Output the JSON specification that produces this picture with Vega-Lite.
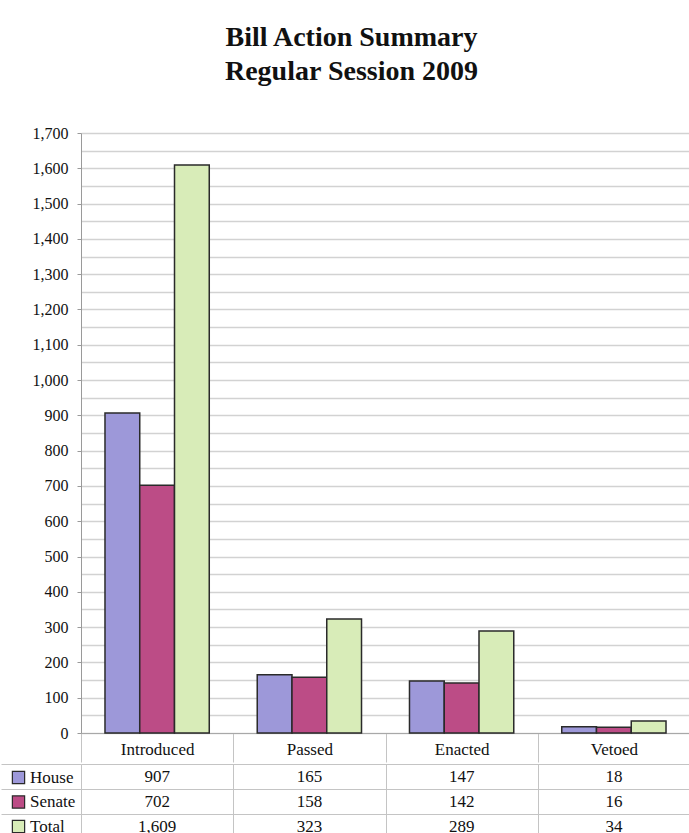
{
  "$schema": "https://vega.github.io/schema/vega-lite/v6.json",
  "background": "white",
  "padding": {"top": 24, "left": 0, "right": 0, "bottom": 0},
  "spacing": 0,
  "title": {
    "text": ["Bill Action Summary", "Regular Session 2009"],
    "font": "Liberation Serif",
    "fontSize": 28,
    "fontWeight": "bold",
    "lineHeight": 34,
    "color": "#111111",
    "anchor": "middle",
    "dx": 6,
    "offset": 39
  },
  "data": {
    "values": [
      {"category": "Introduced", "chamber": "House", "count": 907},
      {"category": "Introduced", "chamber": "Senate", "count": 702},
      {"category": "Introduced", "chamber": "Total", "count": 1609},
      {"category": "Passed", "chamber": "House", "count": 165},
      {"category": "Passed", "chamber": "Senate", "count": 158},
      {"category": "Passed", "chamber": "Total", "count": 323},
      {"category": "Enacted", "chamber": "House", "count": 147},
      {"category": "Enacted", "chamber": "Senate", "count": 142},
      {"category": "Enacted", "chamber": "Total", "count": 289},
      {"category": "Vetoed", "chamber": "House", "count": 18},
      {"category": "Vetoed", "chamber": "Senate", "count": 16},
      {"category": "Vetoed", "chamber": "Total", "count": 34}
    ]
  },
  "resolve": {
    "scale": {"y": "independent", "color": "independent"},
    "legend": {"color": "independent"}
  },
  "config": {
    "view": {"stroke": null},
    "font": "Liberation Serif",
    "axis": {"labelFont": "Liberation Serif", "labelColor": "#111111"},
    "legend": {"labelFont": "Liberation Serif"}
  },
  "vconcat": [
    {
      "width": 609,
      "height": 600,
      "mark": {"type": "bar", "stroke": "#2a2a2a", "strokeWidth": 1.5},
      "encoding": {
        "x": {
          "field": "category",
          "type": "nominal",
          "sort": ["Introduced", "Passed", "Enacted", "Vetoed"],
          "scale": {"paddingInner": 0, "paddingOuter": 0},
          "axis": {
            "title": null,
            "labelAngle": 0,
            "labelFontSize": 17,
            "grid": false,
            "domainColor": "#a8a8a8",
            "tickBand": "extent",
            "tickSize": 29,
            "tickColor": "#c4c4c4",
            "labelPadding": -21,
            "minExtent": 29,
            "maxExtent": 29
          }
        },
        "xOffset": {
          "field": "chamber",
          "sort": ["House", "Senate", "Total"],
          "scale": {"paddingInner": 0, "paddingOuter": 0.69}
        },
        "y": {
          "field": "count",
          "type": "quantitative",
          "scale": {"domain": [0, 1700], "nice": false},
          "axis": {
            "title": null,
            "values": [0, 50, 100, 150, 200, 250, 300, 350, 400, 450, 500, 550, 600, 650, 700, 750, 800, 850, 900, 950, 1000, 1050, 1100, 1150, 1200, 1250, 1300, 1350, 1400, 1450, 1500, 1550, 1600, 1650, 1700],
            "labelExpr": "datum.value % 100 === 0 ? format(datum.value, ',') : ''",
            "labelFontSize": 16,
            "labelPadding": 9,
            "tickSize": 4,
            "tickColor": "#9a9a9a",
            "tickOpacity": {"condition": {"test": "datum.value % 100 !== 0", "value": 0}, "value": 1},
            "domainColor": "#9a9a9a",
            "gridColor": "#d2d2d2",
            "gridWidth": 1.5,
            "minExtent": 80,
            "maxExtent": 80
          }
        },
        "color": {
          "field": "chamber",
          "type": "nominal",
          "scale": {"domain": ["House", "Senate", "Total"], "range": ["#9d98d9", "#bc4c86", "#d8ecb8"]},
          "legend": null
        }
      }
    },
    {
      "width": 609,
      "height": 75,
      "encoding": {
        "y": {
          "field": "chamber",
          "type": "nominal",
          "sort": ["House", "Senate", "Total"],
          "scale": {"paddingInner": 0, "paddingOuter": 0},
          "axis": {
            "title": null,
            "labels": false,
            "domain": false,
            "ticks": true,
            "tickSize": 80,
            "tickColor": "#c4c4c4",
            "grid": true,
            "tickBand": "extent",
            "gridColor": "#c4c4c4",
            "gridWidth": 1,
            "minExtent": 80,
            "maxExtent": 80
          }
        }
      },
      "layer": [
        {
          "mark": {"type": "text", "fontSize": 17, "color": "#111111", "align": "center", "baseline": "middle"},
          "encoding": {
            "x": {
              "field": "category",
              "type": "nominal",
              "sort": ["Introduced", "Passed", "Enacted", "Vetoed"],
              "scale": {"paddingInner": 0, "paddingOuter": 0},
              "axis": {
                "title": null,
                "labels": false,
                "ticks": false,
                "domain": false,
                "grid": true,
                "tickBand": "extent",
                "gridColor": "#c4c4c4",
                "gridWidth": 1
              }
            },
            "text": {"field": "count", "type": "quantitative", "format": ","}
          }
        },
        {
          "mark": {"type": "point", "shape": "square", "filled": true, "size": 0},
          "encoding": {
            "color": {
              "field": "chamber",
              "type": "nominal",
              "scale": {"domain": ["House", "Senate", "Total"], "range": ["#9d98d9", "#bc4c86", "#d8ecb8"]},
              "legend": {
                "title": null,
                "orient": "left",
                "offset": -81,
                "padding": 5,
                "symbolType": "square",
                "symbolSize": 150,
                "symbolStrokeColor": "#2a2a2a",
                "symbolStrokeWidth": 1.2,
                "symbolOpacity": 1,
                "labelFontSize": 17,
                "labelColor": "#111111",
                "labelOffset": 3,
                "rowPadding": 5.5
              }
            }
          }
        }
      ]
    }
  ]
}
